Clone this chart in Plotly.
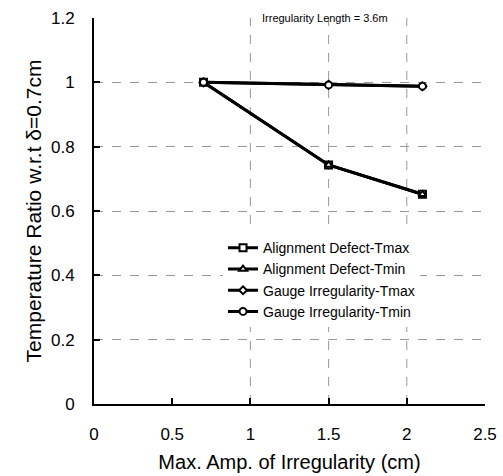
import plotly.graph_objects as go

amp = [0.7, 1.5, 2.1]
align_tmax = [1.0, 0.743, 0.652]
align_tmin = [1.0, 0.743, 0.652]
gauge_tmax = [1.0, 0.992, 0.988]
gauge_tmin = [1.0, 0.992, 0.988]

x_ticks = [0, 0.5, 1, 1.5, 2, 2.5]
x_grid = [1, 1.5, 2]
y_ticks = [0, 0.2, 0.4, 0.6, 0.8, 1, 1.2]

fig = go.Figure()
series = [
    ("Alignment Defect-Tmax", align_tmax, "square", 7),
    ("Alignment Defect-Tmin", align_tmin, "triangle-up", 7),
    ("Gauge Irregularity-Tmax", gauge_tmax, "diamond", 6),
    ("Gauge Irregularity-Tmin", gauge_tmin, "circle", 7),
]
for name, vals, sym, size in series:
    fig.add_trace(go.Scatter(
        x=amp, y=vals, name=name, mode="lines+markers",
        line=dict(color="black", width=3),
        marker=dict(symbol=sym, size=size, color="white",
                    line=dict(color="black", width=2)),
    ))

for gx in x_grid:
    fig.add_vline(x=gx, line=dict(color="#999999", dash="dash", width=1), layer="below")

fig.add_annotation(text="Irregularity Length = 3.6m", x=0.59, y=1.2,
                   xref="paper", yref="y", showarrow=False,
                   font=dict(size=11, color="black"))

axis_common = dict(
    showline=True, linecolor="black", linewidth=2,
    ticks="inside", ticklen=6, tickcolor="black", tickwidth=2,
    zeroline=False, tickfont=dict(size=17, color="black"), automargin=False,
)
fig.update_xaxes(range=[0, 2.5], tickvals=x_ticks, ticktext=[str(v) for v in x_ticks],
                 showgrid=False,
                 title=dict(text="Max. Amp. of Irregularity (cm)", font=dict(size=20, color="black"), standoff=12),
                 ticklabelstandoff=14, **axis_common)
fig.update_yaxes(range=[0, 1.2], tickvals=y_ticks, ticktext=[str(v) for v in y_ticks],
                 showgrid=True, gridcolor="#999999", griddash="dash", gridwidth=1,
                 title=dict(text="Temperature Ratio w.r.t δ=0.7cm", font=dict(size=21, color="black"), standoff=4),
                 ticklabelstandoff=14, **axis_common)

fig.update_layout(
    width=503, height=476,
    margin=dict(l=94, r=18, t=18, b=72),
    plot_bgcolor="white", paper_bgcolor="white",
    font=dict(family="Liberation Sans, Arial, sans-serif", color="black"),
    legend=dict(x=0.33, y=0.445, xanchor="left", yanchor="top",
                bgcolor="white", font=dict(size=14, color="black"),
                tracegroupgap=0),
    showlegend=True,
)

fig.write_html("out.html")
